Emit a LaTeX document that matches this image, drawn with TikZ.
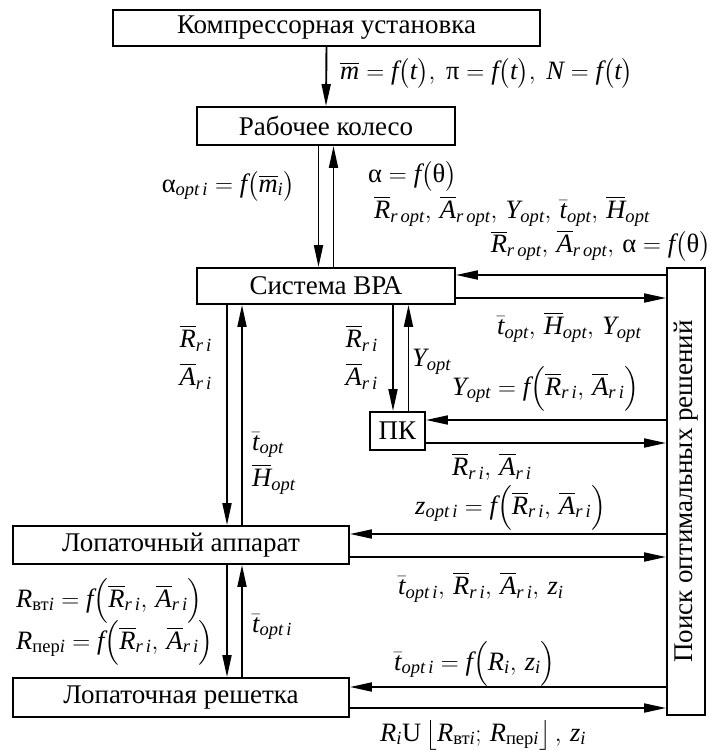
\documentclass[tikz,border=0pt]{standalone}
\usepackage{amsmath}
\usepackage{fontspec}
\setmainfont{Liberation Serif}
\usetikzlibrary{arrows.meta,calc}
\newcommand{\txi}[1]{\text{\itshape #1}}
\newcommand{\txu}[1]{\text{\upshape #1}}
\newcommand{\ob}[1]{\overline{\txi{#1}}}
\newcommand{\tb}{\bar{\txi{t}}}
\newcommand{\Rri}{\ob{R}_{\txi{r\,i}}}
\newcommand{\Ari}{\ob{A}_{\txi{r\,i}}}
\newcommand{\fpar}[1]{\txi{f}\bigl(#1\bigr)}
\newcommand{\fPar}[1]{\txi{f}\Bigl(#1\Bigr)}
\newcommand{\bxfont}{\fontsize{27}{31}\selectfont}
\newcommand{\lbfont}{\fontsize{26.5}{31}\selectfont}
\begin{document}
\begin{tikzpicture}[x=1pt,y=-1pt,
  box/.style={draw, line width=1.9pt, inner sep=0pt, font=\bxfont},
  arr/.style={line width=1.9pt, -{Triangle[length=22pt,width=9pt]}},
  lbl/.style={inner sep=0pt, font=\lbfont}]
\useasboundingbox (0,0) rectangle (713,753);
% boxes
\node[box, minimum width=427pt, minimum height=36pt] (b1) at (326.5,28) {Компрессорная установка};
\node[box, minimum width=258pt, minimum height=38pt] (b2) at (326,126) {Рабочее колесо};
\node[box, minimum width=258pt, minimum height=36pt] (b3) at (326,286) {Система ВРА};
\node[box, minimum width=55pt, minimum height=38pt] (pk) at (397.5,431) {ПК};
\node[box, minimum width=336pt, minimum height=38pt] (la) at (181,545) {Лопаточный аппарат};
\node[box, minimum width=336pt, minimum height=39pt] (lr) at (181,697.5) {Лопаточная решетка};
\node[box, minimum width=38pt, minimum height=447pt] (ps) at (686,491.5) {};
\node[font=\bxfont, rotate=90, inner sep=0pt] (pst) at (ps.center) {Поиск оптимальных решений};
% helper coordinates
\coordinate (v1) at (227,0);
\coordinate (v2) at (242,0);
\coordinate (v3) at (393,0);
\coordinate (v4) at (408.5,0);
\coordinate (h1) at (0,275);
\coordinate (h2) at (0,298);
\coordinate (h3) at (0,420);
\coordinate (h4) at (0,443);
\coordinate (h5) at (0,534);
\coordinate (h6) at (0,557);
\coordinate (h7) at (0,687);
\coordinate (h8) at (0,708);
% arrows
\draw[arr] (b1.south) -- (b2.north);
\draw[arr] ($(b2.south)+(-7.5,0)$) -- ($(b3.north)+(-7.5,0)$);
\draw[arr] ($(b3.north)+(7.5,0)$) -- ($(b2.south)+(7.5,0)$);
\draw[arr] (ps.west |- h1) -- (b3.east |- h1);
\draw[arr] (b3.east |- h2) -- (ps.west |- h2);
\draw[arr] (b3.south -| v3) -- (pk.north -| v3);
\draw[arr] (pk.north -| v4) -- (b3.south -| v4);
\draw[arr] (ps.west |- h3) -- (pk.east |- h3);
\draw[arr] (pk.east |- h4) -- (ps.west |- h4);
\draw[arr] (b3.south -| v1) -- (la.north -| v1);
\draw[arr] (la.north -| v2) -- (b3.south -| v2);
\draw[arr] (ps.west |- h5) -- (la.east |- h5);
\draw[arr] (la.east |- h6) -- (ps.west |- h6);
\draw[arr] (la.south -| v1) -- (lr.north -| v1);
\draw[arr] (lr.north -| v2) -- (la.south -| v2);
\draw[arr] (ps.west |- h7) -- (lr.east |- h7);
\draw[arr] (lr.east |- h8) -- (ps.west |- h8);
% labels
\node[lbl, anchor=west] (t1) at (340,73) {$\ob{m}=\fpar{\txi{t}},\ \txu{π}=\fpar{\txi{t}},\ \txi{N}=\fpar{\txi{t}}$};
\node[lbl, anchor=east] (t2) at (295,186) {$\txu{α}_{\txi{opt\,i}}=\fpar{\ob{m}_{\txi{i}}}$};
\node[lbl, anchor=west] (t3) at (368,176) {$\txu{α}=\fpar{\txu{θ}}$};
\node[lbl, anchor=west] (t4) at (374,211) {$\ob{R}_{\txi{r\,opt}},\,\ob{A}_{\txi{r\,opt}},\,\txi{Y}_{\txi{opt}},\,\tb_{\txi{opt}},\,\ob{H}_{\txi{opt}}$};
\node[lbl, anchor=east] (t5) at (711,246) {$\ob{R}_{\txi{r\,opt}},\,\ob{A}_{\txi{r\,opt}},\,\txu{α}=\fpar{\txu{θ}}$};
\node[lbl, anchor=west] (t6) at (497,327) {$\tb_{\txi{opt}},\,\ob{H}_{\txi{opt}},\,\txi{Y}_{\txi{opt}}$};
\node[lbl, anchor=east] (t7) at (212,338) {$\Rri$};
\node[lbl, anchor=east] (t8) at (212,376) {$\Ari$};
\node[lbl, anchor=east] (t9) at (378,338) {$\Rri$};
\node[lbl, anchor=east] (t10) at (378,376) {$\Ari$};
\node[lbl, anchor=west] (t11) at (412,362) {$\txi{Y}_{\txi{opt}}$};
\node[lbl, anchor=west] (t12) at (452,389) {$\txi{Y}_{\txi{opt}}=\fPar{\Rri,\,\Ari}$};
\node[lbl, anchor=west] (t13) at (452,467) {$\Rri,\,\Ari$};
\node[lbl, anchor=west] (t14) at (252,445) {$\tb_{\txi{opt}}$};
\node[lbl, anchor=west] (t15) at (252,479) {$\ob{H}_{\txi{opt}}$};
\node[lbl, anchor=west] (t16) at (415,508) {$\txi{z}_{\txi{opt\,i}}=\fPar{\Rri,\,\Ari}$};
\node[lbl, anchor=west] (t17) at (398,587) {$\tb_{\txi{opt\,i}},\,\Rri,\,\Ari,\,\txi{z}_{\txi{i}}$};
\node[lbl, anchor=west] (t18) at (16,601) {$\txi{R}_{\txu{вт}\txi{i}}=\fPar{\Rri,\,\Ari}$};
\node[lbl, anchor=west] (t19) at (16,643) {$\txi{R}_{\txu{пер}\txi{i}}=\fPar{\Rri,\,\Ari}$};
\node[lbl, anchor=west] (t20) at (252,627) {$\tb_{\txi{opt\,i}}$};
\node[lbl, anchor=west] (t21) at (394,664) {$\tb_{\txi{opt\,i}}=\fPar{\txi{R}_{\txi{i}},\,\txi{z}_{\txi{i}}}$};
\node[lbl, anchor=west] (t22) at (380,735) {$\txi{R}_{\txi{i}}\txu{U}\left\lfloor \txi{R}_{\txu{вт}\txi{i}};\,\txi{R}_{\txu{пер}\txi{i}}\right\rfloor,\,\txi{z}_{\txi{i}}$};
\end{tikzpicture}
\end{document}
